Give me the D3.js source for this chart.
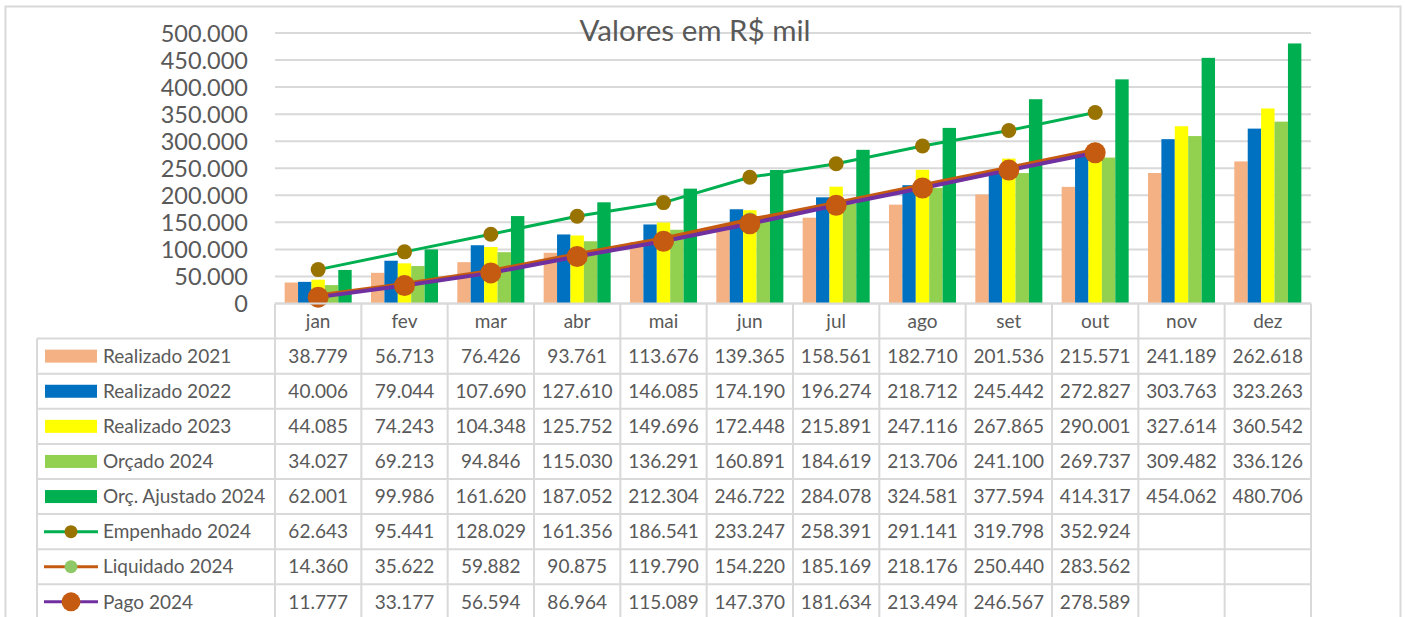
<!DOCTYPE html>
<html>
<head>
<meta charset="utf-8">
<script src="https://cdn.jsdelivr.net/npm/d3@7/dist/d3.min.js"></script>
<style>
html,body{margin:0;padding:0;background:#fff;}
svg{display:block;}
text{font-family:Lato,"Open Sans",sans-serif;fill:#595959;}
</style>
</head>
<body>
<svg id="chart" width="1405" height="617"></svg>
<script>
const months = ["jan","fev","mar","abr","mai","jun","jul","ago","set","out","nov","dez"];
const realizado2021 = [38779,56713,76426,93761,113676,139365,158561,182710,201536,215571,241189,262618];
const realizado2022 = [40006,79044,107690,127610,146085,174190,196274,218712,245442,272827,303763,323263];
const realizado2023 = [44085,74243,104348,125752,149696,172448,215891,247116,267865,290001,327614,360542];
const orcado2024 = [34027,69213,94846,115030,136291,160891,184619,213706,241100,269737,309482,336126];
const orcAjustado2024 = [62001,99986,161620,187052,212304,246722,284078,324581,377594,414317,454062,480706];
const empenhado2024 = [62643,95441,128029,161356,186541,233247,258391,291141,319798,352924,null,null];
const liquidado2024 = [14360,35622,59882,90875,119790,154220,185169,218176,250440,283562,null,null];
const pago2024 = [11777,33177,56594,86964,115089,147370,181634,213494,246567,278589,null,null];
const yTicks = [0,50000,100000,150000,200000,250000,300000,350000,400000,450000,500000];
const title = "Valores em R$ mil";

const barSeries = [
  {name:"Realizado 2021", values:realizado2021, color:"#F4B183"},
  {name:"Realizado 2022", values:realizado2022, color:"#0070C0"},
  {name:"Realizado 2023", values:realizado2023, color:"#FFFF00"},
  {name:"Orçado 2024", values:orcado2024, color:"#92D050"},
  {name:"Orç. Ajustado 2024", values:orcAjustado2024, color:"#00B050"}
];
const lineSeries = [
  {name:"Empenhado 2024", values:empenhado2024, line:"#00B050", marker:"#997300", lw:3, r:7.5, lr:6.5},
  {name:"Liquidado 2024", values:liquidado2024, line:"#C55A11", marker:"#8FC866", lw:4.5, r:7.5, lr:6.5},
  {name:"Pago 2024", values:pago2024, line:"#7030A0", marker:"#C55A11", lw:4, r:10.5, lr:9.5}
];
const allSeries = barSeries.map(s=>({...s,type:"bar"})).concat(lineSeries.map(s=>({...s,type:"line"})));

const fmt = d3.formatLocale({decimal:",", thousands:".", grouping:[3], currency:["R$",""]}).format(",.0f");

const svg = d3.select("#chart");
const grid = "#D9D9D9";
const plotL = 275, plotR = 1311, plotT = 33, plotB = 303.5;
const tableLeft = 37, rowH = 35.1;

svg.append("rect").attr("width",1405).attr("height",617).attr("fill","#fff");
svg.append("rect").attr("x",5.5).attr("y",6.5).attr("width",1395).attr("height",640)
  .attr("fill","none").attr("stroke",grid).attr("stroke-width",2);

const x = d3.scaleBand().domain(months).range([plotL, plotR]).padding(0);
const xi = d3.scaleBand().domain(barSeries.map(s=>s.name)).range([0, x.bandwidth()]).paddingInner(0).paddingOuter(0.72);
const y = d3.scaleLinear().domain([0,500000]).range([plotB, plotT]);

// gridlines
svg.append("g").selectAll("line").data(yTicks).join("line")
  .attr("x1",plotL).attr("x2",plotR)
  .attr("y1",d=>y(d)).attr("y2",d=>y(d))
  .attr("stroke",grid).attr("stroke-width",2);

// y axis labels
const yAxis = d3.axisLeft(y).tickValues(yTicks).tickFormat(fmt).tickSize(0).tickPadding(0);
const ya = svg.append("g").attr("transform","translate(248,0)").call(yAxis);
ya.select(".domain").remove();
ya.selectAll("text").attr("font-family","Lato").attr("font-size",23.5).attr("fill","#595959").attr("dy","0.35em");

// title
svg.append("text").attr("x",695).attr("y",41).attr("text-anchor","middle")
  .attr("font-size",29.5).text(title);

// bars
const bg = svg.append("g");
barSeries.forEach(s=>{
  bg.append("g").selectAll("rect").data(months.map((m,i)=>({m,v:s.values[i]}))).join("rect")
    .attr("x",d=>x(d.m)+xi(s.name)).attr("width",xi.bandwidth())
    .attr("y",d=>y(d.v)).attr("height",d=>y(0)-y(d.v))
    .attr("fill",s.color);
});

// lines
const lg = svg.append("g");
lineSeries.forEach(s=>{
  const pts = months.map((m,i)=>({m,v:s.values[i]})).filter(d=>d.v!=null);
  const line = d3.line().x(d=>x(d.m)+x.bandwidth()/2).y(d=>y(d.v));
  lg.append("path").datum(pts).attr("d",line).attr("fill","none")
    .attr("stroke",s.line).attr("stroke-width",s.lw).attr("stroke-linejoin","round").attr("stroke-linecap","round");
  lg.append("g").selectAll("circle").data(pts).join("circle")
    .attr("cx",d=>x(d.m)+x.bandwidth()/2).attr("cy",d=>y(d.v)).attr("r",s.r).attr("fill",s.marker);
});

// table
const tg = svg.append("g");
const headerTop = plotB, rowsTop = plotB + rowH;
tg.append("line").attr("x1",plotL).attr("x2",plotR).attr("y1",headerTop).attr("y2",headerTop).attr("stroke",grid).attr("stroke-width",2);
for(let i=0;i<=allSeries.length;i++){
  const yy = rowsTop + i*rowH;
  tg.append("line").attr("x1",tableLeft).attr("x2",plotR).attr("y1",yy).attr("y2",yy).attr("stroke",grid).attr("stroke-width",2);
}
tg.append("line").attr("x1",tableLeft).attr("x2",tableLeft).attr("y1",rowsTop).attr("y2",640).attr("stroke",grid).attr("stroke-width",2);
months.forEach(m=>{
  tg.append("line").attr("x1",x(m)).attr("x2",x(m)).attr("y1",headerTop).attr("y2",640).attr("stroke",grid).attr("stroke-width",2);
});
tg.append("line").attr("x1",plotR).attr("x2",plotR).attr("y1",headerTop).attr("y2",640).attr("stroke",grid).attr("stroke-width",2);

// header
tg.append("g").selectAll("text").data(months).join("text")
  .attr("x",d=>x(d)+x.bandwidth()/2).attr("y",headerTop+rowH/2).attr("dy","0.35em")
  .attr("text-anchor","middle").attr("font-size",19).text(d=>d);

// rows
allSeries.forEach((s,ri)=>{
  const cy = rowsTop + ri*rowH + rowH/2;
  if(s.type==="bar"){
    tg.append("rect").attr("x",45).attr("y",cy-6.5).attr("width",52).attr("height",13).attr("fill",s.color);
  } else {
    tg.append("line").attr("x1",44).attr("x2",98).attr("y1",cy).attr("y2",cy).attr("stroke",s.line).attr("stroke-width",3);
    tg.append("circle").attr("cx",71).attr("cy",cy).attr("r",s.lr).attr("fill",s.marker);
  }
  tg.append("text").attr("x",103).attr("y",cy).attr("dy","0.35em").attr("font-size",19).text(s.name);
  tg.append("g").selectAll("text").data(months.map((m,i)=>({m,v:s.values[i]})).filter(d=>d.v!=null)).join("text")
    .attr("x",d=>x(d.m)+x.bandwidth()/2).attr("y",cy).attr("dy","0.35em")
    .attr("text-anchor","middle").attr("font-size",19).text(d=>fmt(d.v));
});
</script>
</body>
</html>
